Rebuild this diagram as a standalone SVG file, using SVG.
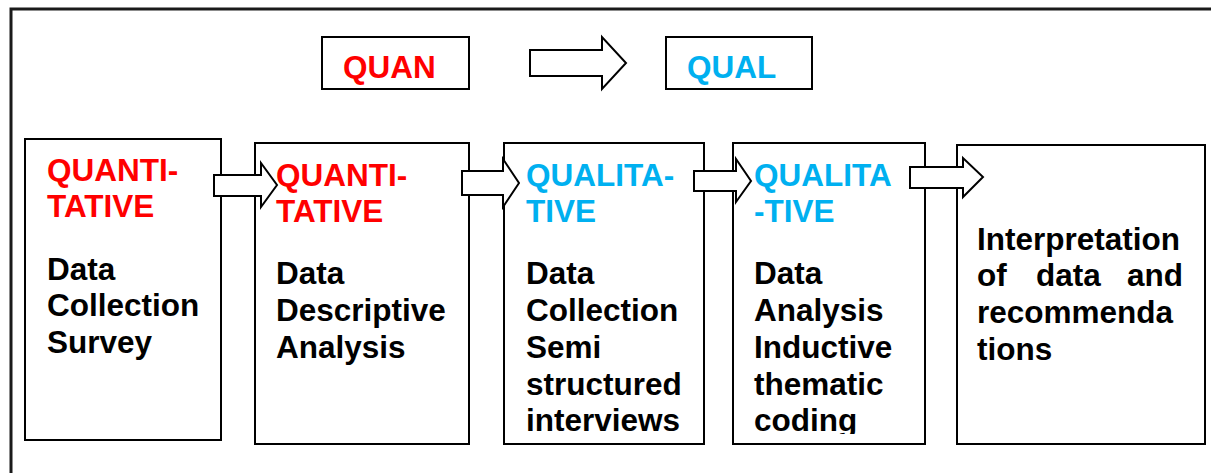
<svg xmlns="http://www.w3.org/2000/svg" width="1211" height="473" viewBox="0 0 1211 473">
<style>
.box{fill:#fff;stroke:#000;stroke-width:2}
.arr{fill:#fff;stroke:#000;stroke-width:2;stroke-linejoin:miter}
text{font-family:"Liberation Sans",Arial,sans-serif;font-weight:bold;font-size:31.5px}
.red{fill:#FF0000}
.blue{fill:#00B0F0}
.blk{fill:#000}
</style>
<defs>
<clipPath id="clip4"><rect x="733" y="144" width="191" height="290"/></clipPath>
</defs>
<rect x="11" y="9" width="1300" height="500" fill="#fff" stroke="#1a1a1a" stroke-width="3"/>
<g id="quan">
<rect class="box" x="322" y="37" width="147" height="52"/>
<text class="red" x="343" y="78">QUAN</text>
</g>
<g id="qual">
<rect class="box" x="666" y="37" width="146" height="52"/>
<text class="blue" x="687" y="78">QUAL</text>
</g>
<g id="box1">
<rect class="box" x="25" y="139" width="196" height="301"/>
<text class="red" x="47" y="181">QUANTI-</text>
<text class="red" x="47" y="217">TATIVE</text>
<text class="blk" x="47" y="280">Data</text>
<text class="blk" x="47" y="316">Collection</text>
<text class="blk" x="47" y="353">Survey</text>
</g>
<g id="box2">
<rect class="box" x="255" y="143" width="214" height="301"/>
<text class="red" x="276" y="186">QUANTI-</text>
<text class="red" x="276" y="222">TATIVE</text>
<text class="blk" x="276" y="284">Data</text>
<text class="blk" x="276" y="321">Descriptive</text>
<text class="blk" x="276" y="358">Analysis</text>
</g>
<g id="box3">
<rect class="box" x="504" y="143" width="200" height="301"/>
<text class="blue" x="526" y="186">QUALITA-</text>
<text class="blue" x="526" y="222">TIVE</text>
<text class="blk" x="526" y="284">Data</text>
<text class="blk" x="526" y="321">Collection</text>
<text class="blk" x="526" y="358">Semi</text>
<text class="blk" x="526" y="395">structured</text>
<text class="blk" x="526" y="431">interviews</text>
</g>
<g id="box4">
<rect class="box" x="733" y="143" width="192" height="301"/>
<g clip-path="url(#clip4)">
<text class="blue" x="754" y="186">QUALITA</text>
<text class="blue" x="754" y="222">-TIVE</text>
<text class="blk" x="754" y="284">Data</text>
<text class="blk" x="754" y="321">Analysis</text>
<text class="blk" x="754" y="358">Inductive</text>
<text class="blk" x="754" y="395">thematic</text>
<text class="blk" x="754" y="431">coding</text>
</g>
</g>
<g id="box5">
<rect class="box" x="957" y="145" width="248" height="299"/>
<text class="blk" x="977" y="250">Interpretation</text>
<text class="blk" y="286"><tspan x="977">of</tspan><tspan x="1036">data</tspan><tspan x="1183" text-anchor="end">and</tspan></text>
<text class="blk" x="977" y="323">recommenda</text>
<text class="blk" x="977" y="360">tions</text>
</g>
<g id="connectors">
<path class="arr" d="M530,50 H602 V37 L626,63 L602,89 V76 H530 Z"/>
<path class="arr" d="M214,175 H261 V163 L277,185 L261,207 V196 H214 Z"/>
<path class="arr" d="M462,171 H503 V159 L519,183 L503,207 V195 H462 Z"/>
<path class="arr" d="M694,171 H736 V159 L751,181 L736,202 V191 H694 Z"/>
<path class="arr" d="M910,167 H963 V158 L983,177 L963,197 V188 H910 Z"/>
</g>
</svg>
